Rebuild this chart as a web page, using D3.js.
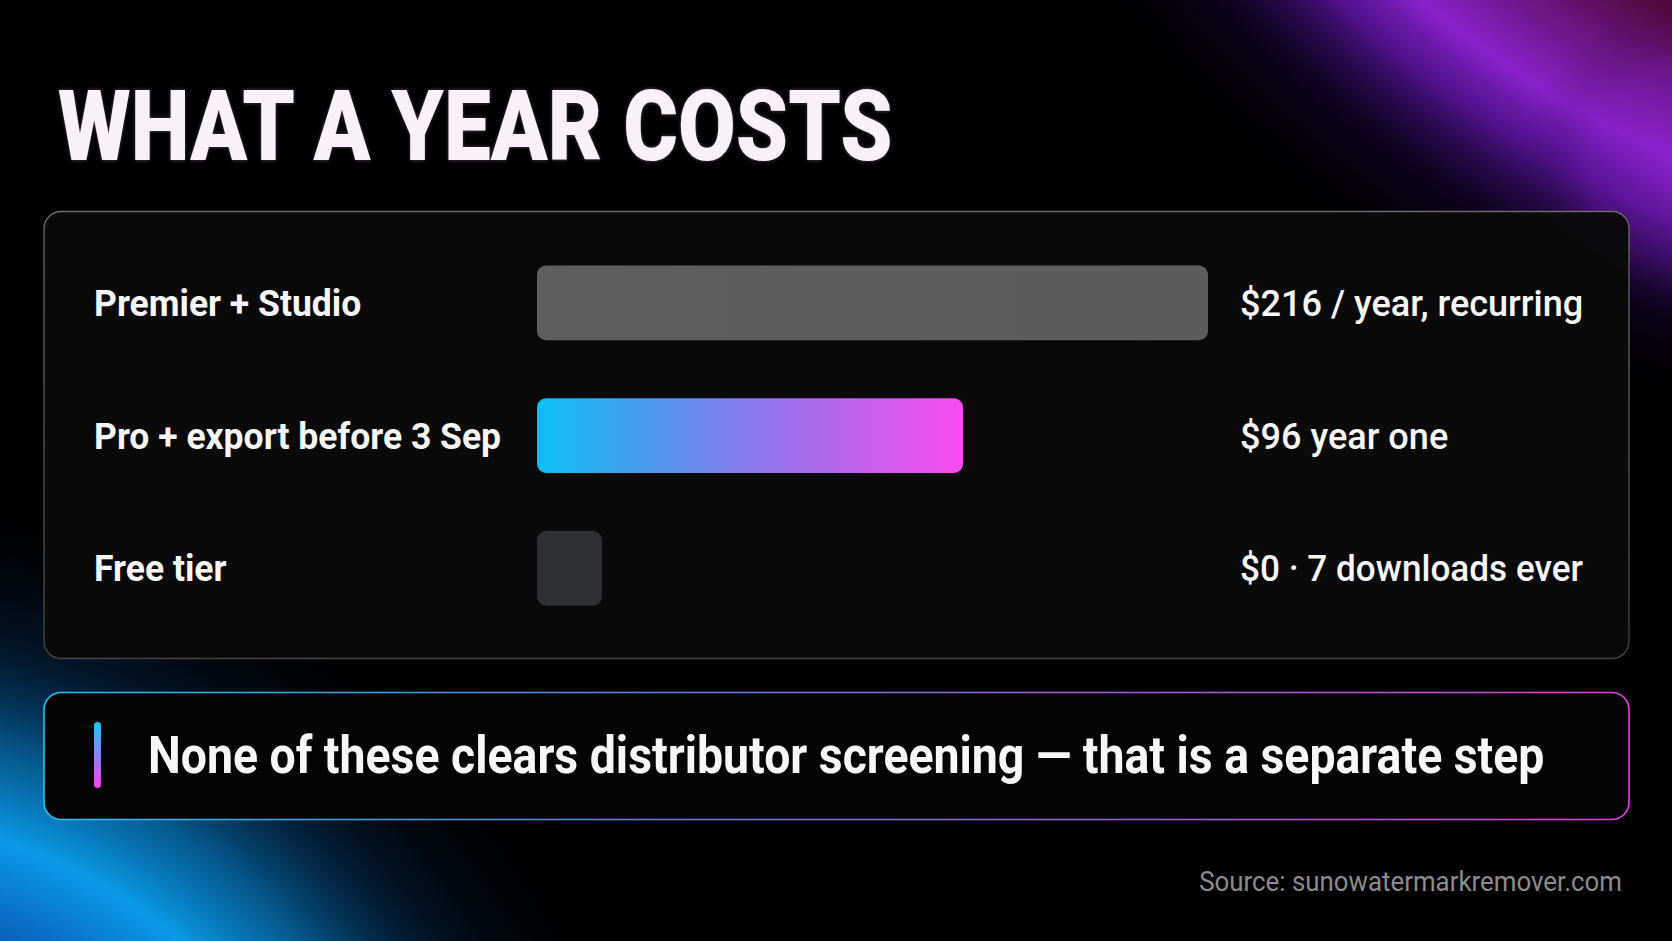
<!DOCTYPE html>
<html><head><meta charset="utf-8">
<script src="https://cdn.jsdelivr.net/npm/d3@7"></script>
<style>html,body{margin:0;padding:0;background:#000;overflow:hidden}svg{display:block}</style>
</head><body>
<script>
// ---- data ----
const title = "WHAT A YEAR COSTS";
const categories = ["Premier + Studio", "Pro + export before 3 Sep", "Free tier"];
const costs = [216, 96, 0];
const valueLabels = ["$216 / year, recurring", "$96 year one", "$0 · 7 downloads ever"];
const callout = "None of these clears distributor screening — that is a separate step";
const source = "Source: sunowatermarkremover.com";

const W = 1672, H = 941;
const FONT = "Roboto, 'Noto Sans', sans-serif";

const svg = d3.select("body").append("svg").attr("width", W).attr("height", H);
const defs = svg.append("defs");

function radial(id, cx, cy, r, stops) {
  const g = defs.append("radialGradient").attr("id", id).attr("gradientUnits","userSpaceOnUse")
    .attr("cx", cx).attr("cy", cy).attr("r", r);
  stops.forEach(([o,c,a]) => g.append("stop").attr("offset",o).attr("stop-color",c).attr("stop-opacity",a));
}
// background glows
radial("glowTR", 2072, -767, 1250, [
  [0,"#2a0014",1],[0.6,"#3c0628",1],[0.70,"#560a44",0.95],[0.76,"#761a98",0.95],[0.805,"#8a22cc",1],
  [0.85,"#6a18b8",0.75],[0.91,"#2a0a60",0.35],[1,"#000",0]]);
radial("glowTR2", 1690, 170, 170, [[0,"#9a26d6",0.45],[0.6,"#7a1cc0",0.2],[1,"#000",0]]);
radial("glowBL", -155, 1326, 850, [
  [0,"#0a3c88",0.85],[0.48,"#0b62c2",0.95],[0.6,"#0a9ae8",1],[0.7,"#0880cc",0.7],[0.82,"#04407a",0.33],[1,"#000",0]]);
svg.append("rect").attr("width",W).attr("height",H).attr("fill","#000");
["glowTR","glowTR2","glowBL"].forEach(id =>
  svg.append("rect").attr("width",W).attr("height",H).attr("fill",`url(#${id})`));

// gradients for marks
const barGrad = defs.append("linearGradient").attr("id","proGrad").attr("x1","0").attr("x2","1");
barGrad.append("stop").attr("offset",0).attr("stop-color","#0abff6");
barGrad.append("stop").attr("offset",0.5).attr("stop-color","#8a78ee");
barGrad.append("stop").attr("offset",1).attr("stop-color","#f84af0");
const borderGrad = defs.append("linearGradient").attr("id","borderGrad").attr("gradientUnits","userSpaceOnUse")
  .attr("x1",44).attr("x2",1629).attr("y1",0).attr("y2",0);
borderGrad.append("stop").attr("offset",0).attr("stop-color","#1ec4f2");
borderGrad.append("stop").attr("offset",0.5).attr("stop-color","#7c6ee0");
borderGrad.append("stop").attr("offset",1).attr("stop-color","#e840e6");
const accentGrad = defs.append("linearGradient").attr("id","accentGrad").attr("x1","0").attr("x2","0").attr("y1","0").attr("y2","1");
accentGrad.append("stop").attr("offset",0).attr("stop-color","#1ec8f6");
accentGrad.append("stop").attr("offset",1).attr("stop-color","#f640ea");
const panelStroke = defs.append("linearGradient").attr("id","panelStroke").attr("x1","0").attr("x2","0").attr("y1","0").attr("y2","1");
panelStroke.append("stop").attr("offset",0).attr("stop-color","#6a6a6a");
panelStroke.append("stop").attr("offset",1).attr("stop-color","#444");
const grayGrad = defs.append("linearGradient").attr("id","grayGrad").attr("x1","0").attr("x2","1");
grayGrad.append("stop").attr("offset",0).attr("stop-color","#5e5e5e");
grayGrad.append("stop").attr("offset",1).attr("stop-color","#5c5c5c");

const glow = defs.append("filter").attr("id","glow").attr("x","-5%").attr("y","-20%").attr("width","110%").attr("height","140%");
glow.append("feGaussianBlur").attr("in","SourceAlpha").attr("stdDeviation",2).attr("result","b");
glow.append("feFlood").attr("flood-color","#e8b0f0").attr("flood-opacity",0.35);
glow.append("feComposite").attr("in2","b").attr("operator","in").attr("result","g");
const fm = glow.append("feMerge"); fm.append("feMergeNode").attr("in","g"); fm.append("feMergeNode").attr("in","SourceGraphic");

// condensed text helper
function ctext(parent, x, y, str, size, weight, fill, sx, anchor) {
  return parent.append("text")
    .attr("transform", `translate(${x},${y}) scale(${sx},1)`)
    .attr("font-family", FONT).attr("font-size", size).attr("font-weight", weight)
    .attr("fill", fill).attr("text-anchor", anchor || "start").text(str);
}

// title
ctext(svg, 58, 160, title, 98, 900, "#f8f2f8", 0.854).attr("filter","url(#glow)");

// panel
svg.append("rect").attr("x",44).attr("y",211.5).attr("width",1585).attr("height",447)
  .attr("rx",17).attr("fill","#0a0a0a").attr("fill-opacity",0.97).attr("stroke","url(#panelStroke)").attr("stroke-width",1.3);

// scales
const x0 = 537;
const x = d3.scalePow().exponent(0.56).domain([0, d3.max(costs)]).range([0, 671]);
const y = d3.scaleBand().domain(categories).range([207.4, 663.8]).padding(0.438);
const minW = 65;
const fills = ["url(#grayGrad)", "url(#proGrad)", "#2e3033"];

const rows = svg.append("g").selectAll("g").data(categories).join("g");
rows.append("rect")
  .attr("x", x0).attr("y", d => y(d))
  .attr("width", (d,i) => Math.max(minW, x(costs[i])))
  .attr("height", y.bandwidth()).attr("rx", 9)
  .attr("fill", (d,i) => fills[i]);
rows.each(function(d,i){
  const cy = y(d) + y.bandwidth()/2;
  ctext(d3.select(this), 94, cy + 13, d, 37, 700, "#f7f7f7", 0.96);
  ctext(d3.select(this), 1240, cy + 13, valueLabels[i], 37, 500, "#f7f7f7", i === 2 ? 0.95 : 0.975);
});

// callout
svg.append("rect").attr("x",44).attr("y",692.5).attr("width",1585).attr("height",127)
  .attr("rx",17).attr("fill","#040404").attr("stroke","url(#borderGrad)").attr("stroke-width",1.6);
svg.append("rect").attr("x",94).attr("y",722).attr("width",7).attr("height",66).attr("rx",3.5).attr("fill","url(#accentGrad)");
ctext(svg, 148, 773, callout, 51, 700, "#f7f7f7", 0.91);

// source
ctext(svg, 1622, 891, source, 27, 400, "#8c8c8c", 0.958, "end");
</script>
</body></html>
